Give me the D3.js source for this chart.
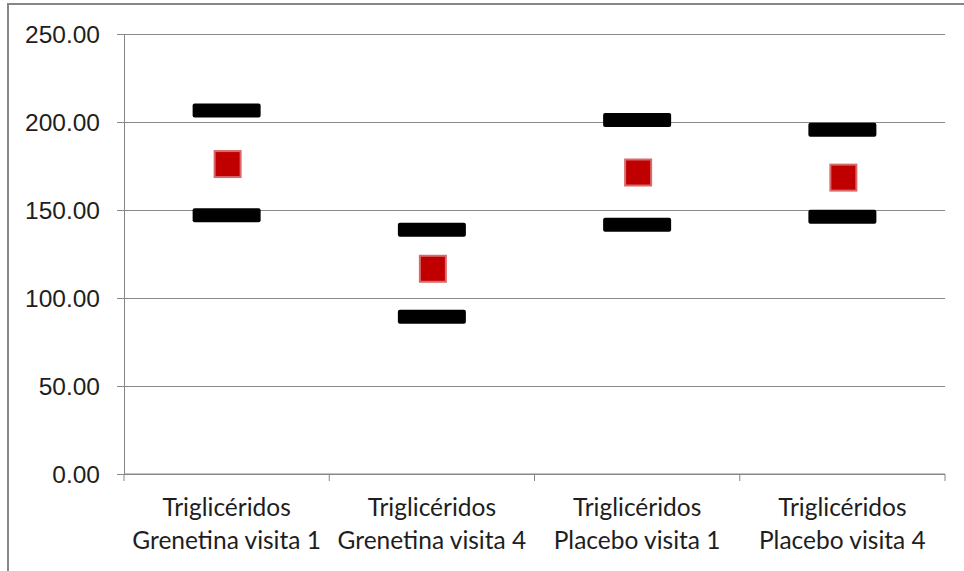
<!DOCTYPE html>
<html>
<head>
<meta charset="utf-8">
<script src="https://cdn.jsdelivr.net/npm/d3@7"></script>
<style>
  body { margin: 0; background: #fff; }
  svg { display: block; font-family: Lato, "Open Sans", sans-serif; }
</style>
</head>
<body>
<svg id="chart" width="964" height="571"></svg>
<script>
// categories (two-line labels)
const categories = [
  ["Triglicéridos", "Grenetina visita 1"],
  ["Triglicéridos", "Grenetina visita 4"],
  ["Triglicéridos", "Placebo visita 1"],
  ["Triglicéridos", "Placebo visita 4"]
];
const highValues = [206.5, 138.8, 201.2, 195.6];
const lowValues = [147.0, 89.3, 141.6, 146.1];
const meanValues = [176.1, 116.6, 171.3, 168.4];
const yTicks = [0, 50, 100, 150, 200, 250];

const width = 964;
const height = 571;
const margin = { top: 34, right: 19, bottom: 97, left: 124 };
const w = width - margin.left - margin.right;
const h = height - margin.top - margin.bottom;
const fontSize = "24.5px";

const svg = d3.select("#chart");

// outer chart border (right/bottom fall outside the picture)
svg.append("rect")
  .attr("x", 8)
  .attr("y", 4)
  .attr("width", 970)
  .attr("height", 580)
  .attr("fill", "none")
  .attr("stroke", "#878787")
  .attr("stroke-width", 2);

const g = svg.append("g").attr("transform", `translate(${margin.left},${margin.top})`);

const keys = categories.map((c, i) => i);
const x = d3.scaleBand().domain(keys).range([0, w]).padding(0);
const y = d3.scaleLinear().domain([0, 250]).range([h, 0]);

// y axis with gridlines
const yAxis = d3.axisLeft(y)
  .tickValues(yTicks)
  .tickFormat(d3.format(".2f"))
  .tickSizeOuter(0);

const yg = g.append("g").call(yAxis);
yg.select(".domain").attr("stroke", "#868686");
yg.selectAll(".tick line")
  .attr("x1", -7)
  .attr("x2", w)
  .attr("stroke", "#8a8a8a");
yg.selectAll(".tick text")
  .attr("x", -24)
  .attr("dy", "0.35em")
  .attr("fill", "#1e1e1e")
  .style("font-size", fontSize);

// x axis: line and tick marks at category boundaries
const xg = g.append("g").attr("transform", `translate(0,${h})`);
xg.append("line")
  .attr("x1", 0).attr("x2", w)
  .attr("stroke", "#868686");
const bounds = keys.map(k => x(k)).concat([w]);
xg.selectAll(".xtick")
  .data(bounds)
  .join("line")
  .attr("class", "xtick")
  .attr("x1", d => d).attr("x2", d => d)
  .attr("y1", 0).attr("y2", 7)
  .attr("stroke", "#868686");

const labels = xg.selectAll(".xlabel")
  .data(categories)
  .join("text")
  .attr("class", "xlabel")
  .attr("text-anchor", "middle")
  .attr("fill", "#1e1e1e")
  .style("font-size", fontSize);
labels.selectAll("tspan")
  .data((d, i) => d.map(t => ({ t, i })))
  .join("tspan")
  .attr("x", d => x(d.i) + x.bandwidth() / 2)
  .attr("y", (d, j) => 42 + j * 33)
  .text(d => d.t);

// high / low bars
const barW = 68, barH = 14;
const bars = g.append("g");
["high", "low"].forEach(kind => {
  const vals = kind === "high" ? highValues : lowValues;
  bars.selectAll("." + kind)
    .data(vals)
    .join("rect")
    .attr("class", kind)
    .attr("x", (d, i) => x(i) + x.bandwidth() / 2 - barW / 2)
    .attr("y", d => y(d) - barH / 2)
    .attr("width", barW)
    .attr("height", barH)
    .attr("rx", 2)
    .attr("fill", "#000");
});

// mean markers
const sq = 26;
g.append("g").selectAll("rect")
  .data(meanValues)
  .join("rect")
  .attr("x", (d, i) => x(i) + x.bandwidth() / 2 - sq / 2 + 1)
  .attr("y", d => y(d) - sq / 2)
  .attr("width", sq)
  .attr("height", sq)
  .attr("fill", "#c00000")
  .attr("stroke", "#d86a6a")
  .attr("stroke-width", 2);
</script>
</body>
</html>
